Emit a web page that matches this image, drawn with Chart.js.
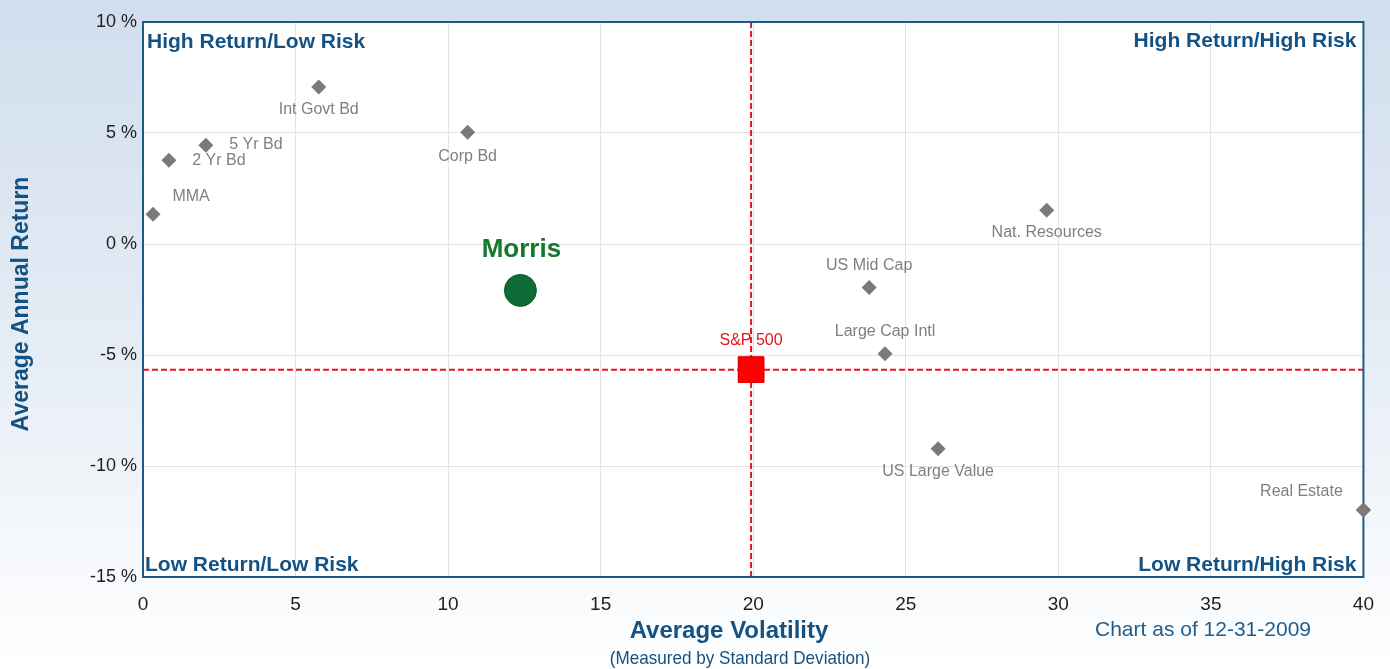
<!DOCTYPE html>
<html>
<head>
<meta charset="utf-8">
<script src="https://cdn.jsdelivr.net/npm/chart.js@4/dist/chart.umd.min.js"></script>
<style>
  html, body { margin: 0; padding: 0; }
  body {
    width: 1390px; height: 669px; overflow: hidden;
    background: linear-gradient(to bottom, #d1deed 0%, #e2eaf4 45%, #f4f7fb 80%, #ffffff 100%);
  }
  #wrap { position: relative; width: 1390px; height: 669px; }
</style>
</head>
<body>
<div id="wrap"><canvas id="myChart"></canvas></div>
<script>
// asset classes
let assets = ['MMA', '2 Yr Bd', '5 Yr Bd', 'Int Govt Bd', 'Corp Bd', 'US Mid Cap', 'Large Cap Intl', 'US Large Value', 'Nat. Resources', 'Real Estate'];
let volatility = [0.33, 0.85, 2.06, 5.76, 10.64, 23.8, 24.32, 26.06, 29.62, 40.0];
let returns = [1.34, 3.77, 4.45, 7.07, 5.03, -1.96, -4.94, -9.22, 1.52, -11.98];

// benchmark and fund
let benchName = 'S&P 500';
let benchVol = 19.93;
let benchRet = -5.66;
let fundName = 'Morris';
let fundVol = 12.37;
let fundRet = -2.09;

// axes
let xTicks = [0, 5, 10, 15, 20, 25, 30, 35, 40];
let yTicks = [-15, -10, -5, 0, 5, 10];

// label offsets from each asset point (pixels)
let labelOffsets = [[38, -18], [50, 0], [50, -1], [0, 23], [0, 24], [0, -22], [0, -22], [0, 23], [0, 22], [-62, -18]];

let blue = '#145283';
let font = '"Liberation Sans", Arial, sans-serif';

let quadrantPlugin = {
    id: 'quadrants',
    beforeDraw(chart) {
        let a = chart.chartArea, c = chart.ctx;
        c.save();
        c.fillStyle = '#ffffff';
        c.fillRect(a.left, a.top, a.right - a.left, a.bottom - a.top);
        c.restore();
    },
    afterDatasetsDraw(chart) {
        let a = chart.chartArea, c = chart.ctx;
        let xs = chart.scales.x, ys = chart.scales.y;
        c.save();
        // S&P reference lines
        c.strokeStyle = '#e8141b';
        c.lineWidth = 2;
        c.setLineDash([6, 3]);
        let bx = xs.getPixelForValue(benchVol), by = ys.getPixelForValue(benchRet);
        c.beginPath();
        c.moveTo(bx, a.top); c.lineTo(bx, a.bottom);
        c.moveTo(a.left, by); c.lineTo(a.right, by);
        c.stroke();
        c.setLineDash([]);
        c.restore();
    },
    afterDraw(chart) {
        let a = chart.chartArea, c = chart.ctx;
        c.save();
        // border
        c.strokeStyle = '#1d5a86';
        c.lineWidth = 2;
        c.strokeRect(a.left, a.top, a.right - a.left, a.bottom - a.top);

        // redraw markers over lines
        let fm = chart.getDatasetMeta(1).data[0];
        let bm = chart.getDatasetMeta(2).data[0];
        bm.draw(c);
        chart.getDatasetMeta(0).data[9].draw(c);

        // asset labels
        c.font = '16px ' + font;
        c.fillStyle = '#7f7f7f';
        c.textAlign = 'center';
        c.textBaseline = 'middle';
        chart.getDatasetMeta(0).data.forEach((p, i) => {
            c.fillText(assets[i], p.x + labelOffsets[i][0], p.y + labelOffsets[i][1]);
        });
        // benchmark label
        c.fillStyle = '#e8141b';
        c.fillText(benchName, bm.x, bm.y - 29);
        // fund label
        c.font = 'bold 26px ' + font;
        c.fillStyle = '#127a2c';
        c.fillText(fundName, fm.x + 1, fm.y - 41);

        // quadrant names
        c.font = 'bold 21px ' + font;
        c.fillStyle = blue;
        c.textAlign = 'left';
        c.fillText('High Return/Low Risk', a.left + 4, a.top + 20);
        c.fillText('Low Return/Low Risk', a.left + 2, a.bottom - 12);
        c.textAlign = 'right';
        c.fillText('High Return/High Risk', a.right - 7, a.top + 19);
        c.fillText('Low Return/High Risk', a.right - 7, a.bottom - 12);

        // axis titles
        c.textAlign = 'center';
        c.font = 'bold 24px ' + font;
        c.fillText('Average Volatility', 729, 631);
        c.save();
        c.translate(740, 659);
        c.scale(0.9, 1);
        c.font = '19px ' + font;
        c.fillText('(Measured by Standard Deviation)', 0, 0);
        c.restore();
        c.font = '21px ' + font;
        c.fillStyle = '#1f5d8c';
        c.fillText('Chart as of 12-31-2009', 1203, 630);

        c.translate(22, 304);
        c.rotate(-Math.PI / 2);
        c.fillStyle = blue;
        c.font = 'bold 23px ' + font;
        c.fillText('Average Annual Return', 0, 0);
        c.restore();
    }
};

let ctx = document.getElementById('myChart').getContext('2d');

let chart = new Chart(ctx, {
    type: 'scatter',
    data: {
        datasets: [{
            label: 'Asset classes',
            data: assets.map((n, i) => ({x: volatility[i], y: returns[i]})),
            pointStyle: 'rectRot',
            pointRadius: 7.5,
            backgroundColor: '#7a7a7a',
            borderColor: '#7a7a7a',
            borderWidth: 0,
            clip: false
        }, {
            label: fundName,
            data: [{x: fundVol, y: fundRet}],
            pointStyle: 'circle',
            pointRadius: 16,
            backgroundColor: '#0d6b35',
            borderColor: '#0a5a2c',
            borderWidth: 1,
            clip: false
        }, {
            label: benchName,
            data: [{x: benchVol, y: benchRet}],
            pointStyle: 'rect',
            pointRadius: 18,
            backgroundColor: '#ff0000',
            borderColor: '#e00000',
            borderWidth: 1,
            clip: false
        }]
    },
    options: {
        responsive: true,
        maintainAspectRatio: false,
        animation: false,
        events: [],
        layout: { padding: { top: 22, right: 22, left: 0, bottom: 0 } },
        plugins: { legend: { display: false }, tooltip: { enabled: false } },
        scales: {
            x: {
                type: 'linear',
                min: 0,
                max: 40,
                afterBuildTicks: s => { s.ticks = xTicks.map(v => ({value: v})); },
                afterFit: s => { s.height = 92; },
                grid: { color: '#e3e3e3', lineWidth: 1, tickLength: 0, drawTicks: false },
                border: { display: false },
                ticks: {
                    padding: 16,
                    color: '#1e1e1e',
                    font: { family: font, size: 19 }
                }
            },
            y: {
                type: 'linear',
                min: -15,
                max: 10,
                afterBuildTicks: s => { s.ticks = yTicks.map(v => ({value: v})); },
                afterFit: s => { s.width = 143; },
                grid: { color: '#e3e3e3', lineWidth: 1, tickLength: 0, drawTicks: false },
                border: { display: false },
                ticks: {
                    padding: 6,
                    color: '#1e1e1e',
                    callback: v => v + ' %',
                    font: { family: font, size: 18 }
                }
            }
        }
    },
    plugins: [quadrantPlugin]
});
</script>
</body>
</html>
